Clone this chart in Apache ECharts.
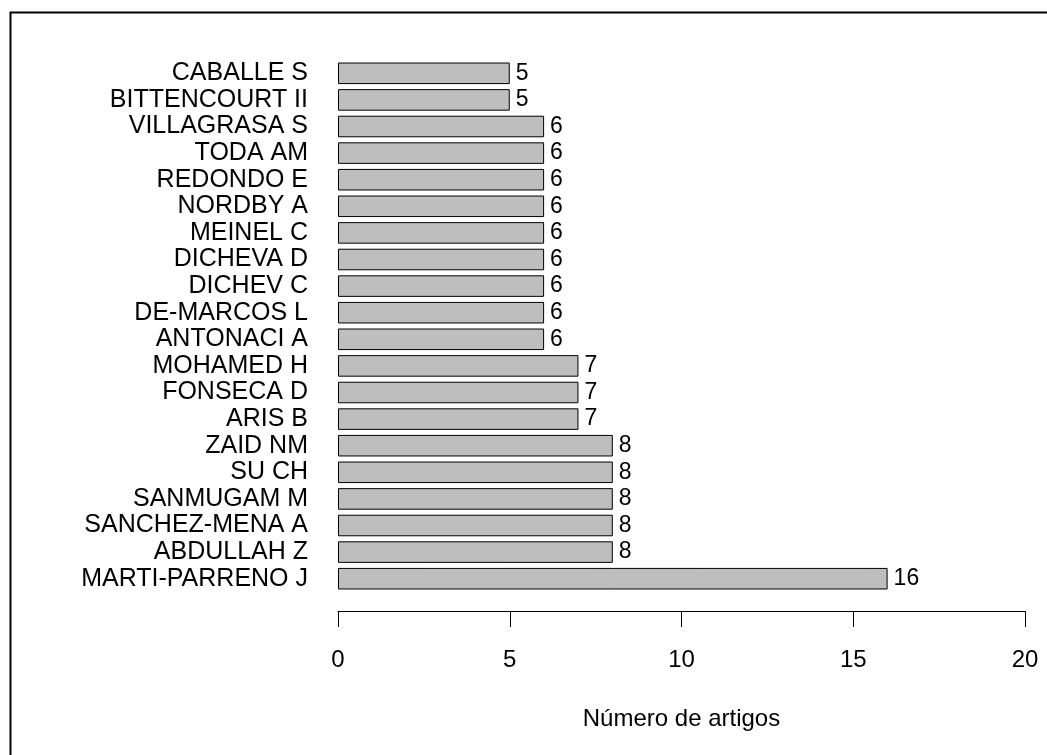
<!DOCTYPE html>
<html>
<head>
<meta charset="utf-8">
<script src="https://cdn.jsdelivr.net/npm/echarts@6/dist/echarts.min.js"></script>
<style>
html,body{margin:0;padding:0;background:#fff;}
#chart{width:1047px;height:755px;}
</style>
</head>
<body>
<div id="chart"></div>
<script>
// Categories listed bottom to top
const authors = ["MARTI-PARRENO J","ABDULLAH Z","SANCHEZ-MENA A","SANMUGAM M","SU CH","ZAID NM","ARIS B","FONSECA D","MOHAMED H","ANTONACI A","DE-MARCOS L","DICHEV C","DICHEVA D","MEINEL C","NORDBY A","REDONDO E","TODA AM","VILLAGRASA S","BITTENCOURT II","CABALLE S"];
const articles = [16,8,8,8,8,8,7,7,7,6,6,6,6,6,6,6,6,6,5,5];
const xTicks = [0,5,10,15,20];

const chart = echarts.init(document.getElementById('chart'), null, {renderer:'canvas'});
const font = 'Liberation Sans, Arial, sans-serif';
chart.setOption({
  animation:false,
  backgroundColor:'#ffffff',
  graphic:[{
    type:'rect', left:8, top:10,
    shape:{x:0,y:0,width:1200,height:900},
    style:{fill:'none',stroke:'#000',lineWidth:2},
    silent:true
  }],
  grid:{left:338,right:22,top:60,bottom:163,containLabel:false},
  xAxis:{
    type:'value', min:xTicks[0], max:xTicks[xTicks.length-1], interval:5,
    offset:19,
    axisLine:{show:true,lineStyle:{color:'#000',width:1}},
    axisTick:{show:true,length:16,lineStyle:{color:'#000',width:1}},
    splitLine:{show:false},
    axisLabel:{fontFamily:font,fontSize:24,color:'#000',margin:37},
    name:'Número de artigos', nameLocation:'middle', nameGap:96,
    nameTextStyle:{fontFamily:font,fontSize:24,color:'#000'}
  },
  yAxis:{
    type:'category', data:authors,
    axisLine:{show:false}, axisTick:{show:false}, splitLine:{show:false},
    axisLabel:{fontFamily:font,fontSize:25,color:'#000',margin:30,interval:0}
  },
  series:[{
    type:'bar', data:articles, barCategoryGap:'19%',
    itemStyle:{color:'#bebebe',borderColor:'#000',borderWidth:1},
    label:{show:true,position:'right',distance:6,fontFamily:font,fontSize:23,color:'#000'}
  }]
});
</script>
</body>
</html>
